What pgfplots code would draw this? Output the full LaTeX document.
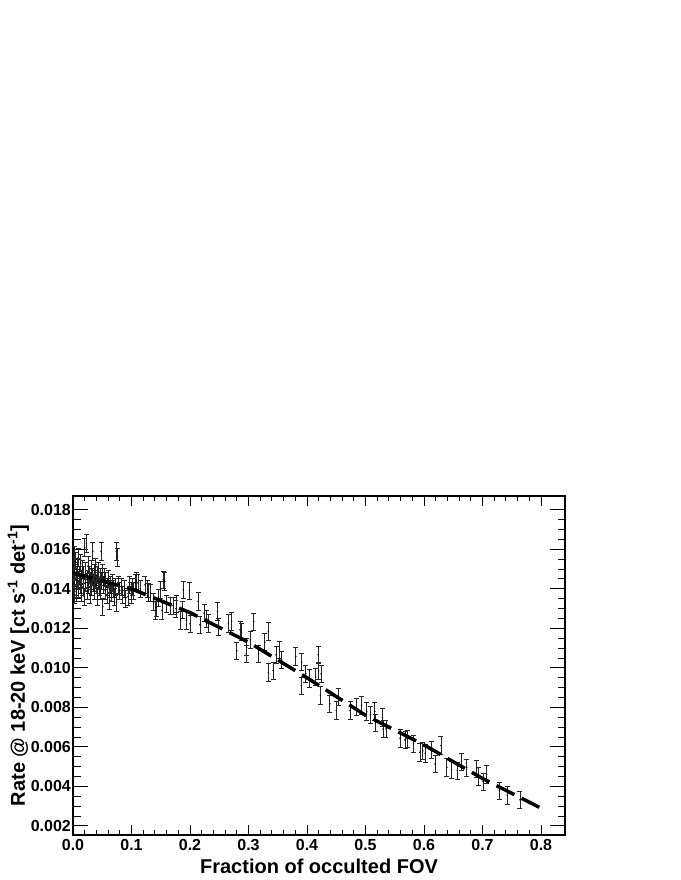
\documentclass[border=0pt]{standalone}
\usepackage{fontspec}
\setmainfont{Liberation Sans}
\usepackage{pgfplots}
\usepackage{pgfplotstable}
\pgfplotsset{compat=1.18}
\pgfplotstableread{
x y
0.000 0.0146
0.001 0.0152
0.001 0.0140
0.002 0.0157
0.002 0.0143
0.003 0.0137
0.003 0.0149
0.004 0.0154
0.005 0.0141
0.005 0.0146
0.006 0.0138
0.007 0.0151
0.008 0.0144
0.009 0.0156
0.010 0.0140
0.011 0.0147
0.012 0.0142
0.013 0.0153
0.014 0.0138
0.015 0.0145
0.016 0.0150
0.017 0.0141
0.018 0.0147
0.019 0.0136
0.020 0.0161
0.021 0.0143
0.022 0.0149
0.023 0.0163
0.024 0.0139
0.025 0.0145
0.026 0.0152
0.027 0.0142
0.028 0.0147
0.029 0.0137
0.030 0.0144
0.031 0.0150
0.032 0.0141
0.033 0.0146
0.034 0.0159
0.035 0.0143
0.036 0.0148
0.037 0.0139
0.038 0.0145
0.039 0.0151
0.040 0.0142
0.041 0.0147
0.042 0.0136
0.043 0.0144
0.044 0.0149
0.045 0.0141
0.046 0.0146
0.047 0.0139
0.048 0.0159
0.049 0.0144
0.050 0.0148
0.051 0.0131
0.052 0.0142
0.053 0.0146
0.055 0.0139
0.056 0.0144
0.058 0.0137
0.059 0.0141
0.060 0.0145
0.062 0.0140
0.063 0.0134
0.064 0.0142
0.066 0.0138
0.067 0.0143
0.069 0.0140
0.071 0.0136
0.072 0.0141
0.074 0.0159
0.076 0.0156
0.074 0.0133
0.078 0.0142
0.080 0.0139
0.083 0.0141
0.085 0.0137
0.088 0.0140
0.090 0.0135
0.094 0.0136
0.097 0.0142
0.099 0.0139
0.100 0.0137
0.102 0.0141
0.104 0.0139
0.106 0.0143
0.108 0.0144
0.111 0.0143
0.115 0.0140
0.123 0.0142
0.128 0.0140
0.129 0.01383
0.133 0.01378
0.138 0.01333
0.141 0.0129
0.142 0.01307
0.146 0.01353
0.150 0.01395
0.152 0.0129
0.154 0.01446
0.157 0.01437
0.159 0.01324
0.166 0.01315
0.171 0.01315
0.176 0.01299
0.177 0.01324
0.184 0.0124
0.1875 0.01294
0.1885 0.01395
0.194 0.0124
0.199 0.01391
0.200 0.01223
0.214 0.01336
0.217 0.01218
0.224 0.01277
0.2285 0.01248
0.231 0.01226
0.247 0.01285
0.248 0.01206
0.2655 0.01226
0.271 0.01236
0.280 0.01087
0.2855 0.01192
0.288 0.01181
0.296 0.01071
0.297 0.01105
0.303 0.01142
0.309 0.01234
0.317 0.01071
0.328 0.0113
0.334 0.01184
0.334 0.00978
0.342 0.00986
0.347 0.01066
0.353 0.01091
0.357 0.0104
0.381 0.01059
0.390 0.0091
0.391 0.01029
0.398 0.00971
0.404 0.00946
0.415 0.00953
0.419 0.01066
0.420 0.00985
0.423 0.0086
0.424 0.0097
0.439 0.00818
0.450 0.00784
0.4535 0.00852
0.4735 0.00784
0.484 0.00801
0.4935 0.00811
0.502 0.00779
0.508 0.00762
0.516 0.0078
0.517 0.0072
0.529 0.0075
0.530 0.0069
0.535 0.00691
0.559 0.00644
0.5675 0.00635
0.571 0.00642
0.582 0.00615
0.593 0.00573
0.598 0.00581
0.602 0.00568
0.613 0.00585
0.619 0.00514
0.629 0.00607
0.639 0.00497
0.647 0.00484
0.657 0.0048
0.664 0.00525
0.673 0.00495
0.690 0.0049
0.693 0.0045
0.701 0.00424
0.707 0.0046
0.729 0.00378
0.742 0.00355
0.764 0.00332
}\datatable
\pgfplotstableread{
x y
0.0 0.0148
0.1 0.0140
0.2 0.0128
0.3 0.0113
0.4 0.0095
0.5 0.0076
0.6 0.0061
0.7 0.0044
0.8 0.0029
}\fittable
\begin{document}
\begin{tikzpicture}
\useasboundingbox (0,0) rectangle (680pt,-880pt);
\begin{axis}[
  at={(73pt,-835pt)}, anchor=south west,
  scale only axis, width=492pt, height=339pt,
  xmin=0, xmax=0.841, ymin=0.00154, ymax=0.0187,
  xtick={0,0.1,0.2,0.3,0.4,0.5,0.6,0.7,0.8},
  ytick={0.002,0.004,0.006,0.008,0.010,0.012,0.014,0.016,0.018},
  minor x tick num=4, minor y tick num=3,
  tick align=inside, xtick pos=both, ytick pos=both,
  xticklabel pos=lower, yticklabel pos=left,
  major tick length=15pt, minor tick length=7.5pt,
  xtick style={/pgfplots/major tick length=10pt, /pgfplots/minor tick length=5pt},
  tick style={line width=1pt, black},
  axis line style={line width=1.2pt},
  scaled x ticks=false, scaled y ticks=false,
  /pgf/number format/assume math mode=true,
  tick label style={font=\bfseries\fontsize{16}{16}\selectfont},
  xticklabel style={/pgf/number format/fixed, /pgf/number format/fixed zerofill, /pgf/number format/precision=1, inner sep=4pt},
  yticklabel style={/pgf/number format/fixed, /pgf/number format/fixed zerofill, /pgf/number format/precision=3, inner sep=2pt},
  xlabel={Fraction of occulted FOV},
  xlabel style={font=\bfseries\fontsize{20}{20}\selectfont, at={(axis description cs:0.5,0)}, anchor=base, yshift=-38pt},
  ylabel={Rate @ 18-20 keV [ct s\textsuperscript{-1} det\textsuperscript{-1}]},
  ylabel style={font=\bfseries\fontsize{20}{20}\selectfont, at={(axis description cs:-0.0976,0.5)}, anchor=base},
]
\addplot[only marks, mark=*, mark size=0.5pt, black,
  error bars/.cd, y dir=both, y fixed=0.00044, error mark=|,
  error bar style={black!85, line width=0.8pt},
  error mark options={black!85, line width=0.8pt, mark size=2.5pt}]
  table[x=x, y=y] {\datatable};
\addplot[black, line width=3.5pt, dash pattern=on 20pt off 8pt] table[x=x, y=y] {\fittable};
\end{axis}
\end{tikzpicture}
\end{document}
